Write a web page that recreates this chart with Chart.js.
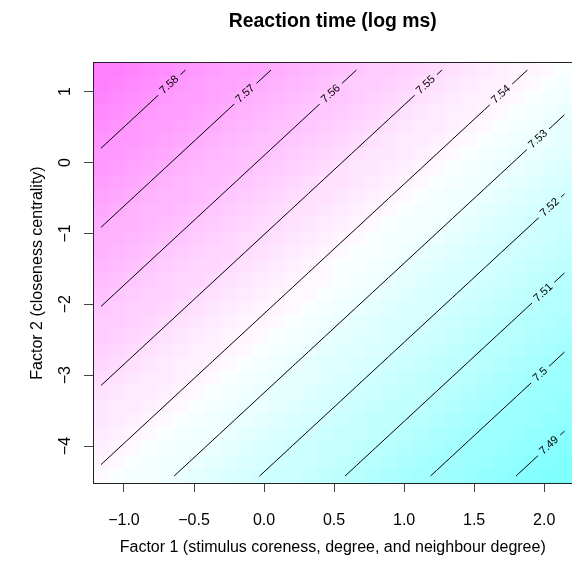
<!DOCTYPE html>
<html>
<head>
<meta charset="utf-8">
<script src="https://cdn.jsdelivr.net/npm/chart.js@4.4.0/dist/chart.umd.min.js"></script>
<style>
  html, body { margin: 0; padding: 0; background: #fff; overflow: hidden; }
  canvas { display: block; }
</style>
</head>
<body>
<canvas id="contour" width="574" height="563"></canvas>
<script>
var FONT = '"Liberation Sans", Arial, Helvetica, sans-serif';

// cell centres of the 30 x 30 prediction grid
var xGrid = [-1.164, -1.0499, -0.9358, -0.8217, -0.7076, -0.5935, -0.4794, -0.3653, -0.2512, -0.1371,
             -0.0230, 0.0911, 0.2052, 0.3193, 0.4334, 0.5475, 0.6616, 0.7757, 0.8898, 1.0039,
             1.1180, 1.2321, 1.3462, 1.4603, 1.5744, 1.6885, 1.8026, 1.9167, 2.0308, 2.1449];
var yGrid = [-4.423, -4.2255, -4.028, -3.8305, -3.633, -3.4355, -3.238, -3.0405, -2.843, -2.6455,
             -2.448, -2.2505, -2.053, -1.8555, -1.658, -1.4605, -1.263, -1.0655, -0.868, -0.6705,
             -0.473, -0.2755, -0.078, 0.1195, 0.317, 0.5145, 0.712, 0.9095, 1.107, 1.3045];

// fitted log RT along the lowest grid row (factor 2 = -4.42)
var zBottomRow = [7.53856, 7.53669, 7.53482, 7.53295, 7.53108, 7.52921, 7.52734, 7.52547, 7.52360, 7.52173,
                  7.51986, 7.51799, 7.51612, 7.51425, 7.51238, 7.51051, 7.50864, 7.50677, 7.50490, 7.50303,
                  7.50116, 7.49929, 7.49742, 7.49555, 7.49368, 7.49181, 7.48994, 7.48807, 7.48620, 7.48433];
// fitted log RT along the leftmost grid column (factor 1 = -1.16)
var zLeftCol = [7.53856, 7.54033, 7.54210, 7.54387, 7.54564, 7.54741, 7.54918, 7.55095, 7.55272, 7.55449,
                7.55626, 7.55803, 7.55980, 7.56157, 7.56334, 7.56511, 7.56688, 7.56865, 7.57042, 7.57219,
                7.57396, 7.57573, 7.57750, 7.57927, 7.58104, 7.58281, 7.58458, 7.58635, 7.58812, 7.58989];

var levels = [7.58, 7.57, 7.56, 7.55, 7.54, 7.53, 7.52, 7.51, 7.50, 7.49];
var levelLabels = ["7.58", "7.57", "7.56", "7.55", "7.54", "7.53", "7.52", "7.51", "7.5", "7.49"];

var xTicks = [-1, -0.5, 0, 0.5, 1, 1.5, 2];
var xTickLabels = ["\u22121.0", "\u22120.5", "0.0", "0.5", "1.0", "1.5", "2.0"];
var yTicks = [-4, -3, -2, -1, 0, 1];
var yTickLabels = ["\u22124", "\u22123", "\u22122", "\u22121", "0", "1"];

// how far back from the upper end each contour label sits (px)
var labelBack = [22, 35, 35, 22, 36, 36, 20, 29, 33, 21];

// additive surface: table built from the two fitted profiles
var zTable = yGrid.map(function (y, j) {
  return xGrid.map(function (x, i) { return zBottomRow[i] + zLeftCol[j] - zLeftCol[0]; });
});

var zMin = Infinity, zMax = -Infinity;
zTable.forEach(function (row) {
  row.forEach(function (z) { zMin = Math.min(zMin, z); zMax = Math.max(zMax, z); });
});

// R's cm.colors(50)
function cmColors(n) {
  var k = n / 2, cols = [];
  for (var a = 0; a < k; a++) {
    var s = 0.5 - a * (0.5 - 0.5 / k) / (k - 1);
    cols.push('rgb(' + Math.round(255 * (1 - s)) + ',255,255)');
  }
  for (var b = 1; b <= k; b++) {
    var s2 = 0.5 * b / k;
    cols.push('rgb(255,' + Math.round(255 * (1 - s2)) + ',255)');
  }
  return cols;
}
var palette = cmColors(50);

function colourFor(z) {
  var idx = Math.floor((z - zMin) / (zMax - zMin) * palette.length);
  return palette[Math.max(0, Math.min(palette.length - 1, idx))];
}

function cellEdges(g, k) {
  var lo = k === 0 ? g[0] - (g[1] - g[0]) / 2 : (g[k - 1] + g[k]) / 2;
  var hi = k === g.length - 1 ? g[k] + (g[k] - g[k - 1]) / 2 : (g[k] + g[k + 1]) / 2;
  return [lo, hi];
}

function contourPoints(level) {
  var pts = [];
  for (var j = 0; j < yGrid.length; j++) {
    for (var i = 0; i < xGrid.length - 1; i++) {
      var z1 = zTable[j][i], z2 = zTable[j][i + 1];
      if (z1 !== z2 && (z1 - level) * (z2 - level) <= 0) {
        var t = (level - z1) / (z2 - z1);
        pts.push({ x: xGrid[i] + t * (xGrid[i + 1] - xGrid[i]), y: yGrid[j] });
      }
    }
  }
  for (var c = 0; c < xGrid.length; c++) {
    for (var r = 0; r < yGrid.length - 1; r++) {
      var w1 = zTable[r][c], w2 = zTable[r + 1][c];
      if (w1 !== w2 && (w1 - level) * (w2 - level) <= 0) {
        var u = (level - w1) / (w2 - w1);
        pts.push({ x: xGrid[c], y: yGrid[r] + u * (yGrid[r + 1] - yGrid[r]) });
      }
    }
  }
  pts.sort(function (p, q) { return p.x - q.x || p.y - q.y; });
  return pts;
}

function paintCells(chart) {
  var ctx = chart.ctx, xs = chart.scales.x, ys = chart.scales.y;
  for (var j = 0; j < yGrid.length; j++) {
    var ey = cellEdges(yGrid, j);
    var t = Math.round(ys.getPixelForValue(ey[1])), b = Math.round(ys.getPixelForValue(ey[0]));
    for (var i = 0; i < xGrid.length; i++) {
      var ex = cellEdges(xGrid, i);
      var l = Math.round(xs.getPixelForValue(ex[0])), r = Math.round(xs.getPixelForValue(ex[1]));
      ctx.fillStyle = colourFor(zTable[j][i]);
      ctx.fillRect(l, t, r - l, b - t);
    }
  }
}

var heatPlugin = {
  id: 'heat',
  beforeDatasetsDraw: function (chart) {
    var ca = chart.chartArea, ctx = chart.ctx;
    ctx.save();
    ctx.beginPath();
    ctx.rect(ca.left, ca.top, ca.right - ca.left, ca.bottom - ca.top);
    ctx.clip();
    paintCells(chart);
    ctx.restore();
  }
};

var labelPlugin = {
  id: 'contourLabels',
  afterDatasetsDraw: function (chart) {
    var ctx = chart.ctx, xs = chart.scales.x, ys = chart.scales.y;
    ctx.save();
    ctx.font = '11px ' + FONT;
    chart.data.datasets.forEach(function (ds, k) {
      var pts = ds.data;
      if (pts.length < 2) return;
      var ax = xs.getPixelForValue(pts[0].x), ay = ys.getPixelForValue(pts[0].y);
      var bx = xs.getPixelForValue(pts[pts.length - 1].x), by = ys.getPixelForValue(pts[pts.length - 1].y);
      var len = Math.hypot(bx - ax, by - ay);
      var ux = (bx - ax) / len, uy = (by - ay) / len;
      var cx = bx - ux * labelBack[k], cy = by - uy * labelBack[k];
      var hw = (ctx.measureText(levelLabels[k]).width + 9) / 2, hh = 4;
      // break the line under the label
      ctx.save();
      ctx.beginPath();
      ctx.moveTo(cx - ux * hw - uy * hh, cy - uy * hw + ux * hh);
      ctx.lineTo(cx + ux * hw - uy * hh, cy + uy * hw + ux * hh);
      ctx.lineTo(cx + ux * hw + uy * hh, cy + uy * hw - ux * hh);
      ctx.lineTo(cx - ux * hw + uy * hh, cy - uy * hw - ux * hh);
      ctx.closePath();
      ctx.clip();
      paintCells(chart);
      ctx.restore();

      ctx.save();
      ctx.translate(cx, cy);
      ctx.rotate(Math.atan2(uy, ux));
      ctx.fillStyle = '#000';
      ctx.textAlign = 'center';
      ctx.textBaseline = 'middle';
      ctx.fillText(levelLabels[k], 0, 0);
      ctx.restore();
    });
    ctx.restore();
  }
};

var framePlugin = {
  id: 'frame',
  afterDraw: function (chart) {
    var ctx = chart.ctx, ca = chart.chartArea, ys = chart.scales.y;
    ctx.save();
    ctx.strokeStyle = '#222';
    ctx.lineWidth = 1;
    ctx.strokeRect(Math.round(ca.left) + 0.5, Math.round(ca.top) - 0.5,
                   ca.right - ca.left, Math.round(ca.bottom) - Math.round(ca.top) + 1);
    // y tick labels, parallel to the axis as in R
    ctx.fillStyle = '#000';
    ctx.font = '16px ' + FONT;
    ctx.textAlign = 'center';
    ctx.textBaseline = 'alphabetic';
    yTicks.forEach(function (v, i) {
      ctx.save();
      ctx.translate(70, ys.getPixelForValue(v));
      ctx.rotate(-Math.PI / 2);
      ctx.fillText(yTickLabels[i], 0, 0);
      ctx.restore();
    });
    ctx.restore();
  }
};

var xMin = cellEdges(xGrid, 0)[0], xMax = cellEdges(xGrid, xGrid.length - 1)[1];
var yMin = cellEdges(yGrid, 0)[0], yMax = cellEdges(yGrid, yGrid.length - 1)[1];

new Chart(document.getElementById('contour'), {
  type: 'scatter',
  data: {
    datasets: levels.map(function (lv, k) {
      return {
        label: levelLabels[k],
        data: contourPoints(lv),
        showLine: true,
        borderColor: '#000',
        borderWidth: 1,
        pointRadius: 0,
        pointHoverRadius: 0,
        tension: 0
      };
    })
  },
  options: {
    responsive: false,
    animation: false,
    devicePixelRatio: 1,
    events: [],
    layout: { padding: { left: 0, right: 1, top: 0, bottom: 0 } },
    plugins: {
      legend: { display: false },
      tooltip: { enabled: false },
      title: {
        display: true,
        text: 'Reaction time (log ms)',
        color: '#000',
        fullSize: false,
        font: { family: FONT, size: 19.4, weight: 'bold', lineHeight: 1.2 },
        padding: { top: 10, bottom: 29.72 }
      }
    },
    scales: {
      x: {
        type: 'linear',
        position: 'bottom',
        min: xMin,
        max: xMax,
        afterBuildTicks: function (s) { s.ticks = xTicks.map(function (v) { return { value: v }; }); },
        afterFit: function (s) { s.height = 80; },
        ticks: {
          autoSkip: false,
          maxRotation: 0,
          color: '#000',
          padding: 18.6,
          font: { family: FONT, size: 16 },
          callback: function (v, i) { return xTickLabels[i]; }
        },
        grid: { drawOnChartArea: false, drawTicks: true, tickLength: 9, color: '#444' },
        border: { display: false },
        title: {
          display: true,
          text: 'Factor 1 (stimulus coreness, degree, and neighbour degree)',
          color: '#000',
          font: { family: FONT, size: 16, lineHeight: 1.2 },
          padding: { top: 0, bottom: 5.9 }
        }
      },
      y: {
        type: 'linear',
        position: 'left',
        min: yMin,
        max: yMax,
        afterBuildTicks: function (s) { s.ticks = yTicks.map(function (v) { return { value: v }; }); },
        afterFit: function (s) { s.width = 93; },
        ticks: { display: false },
        grid: { drawOnChartArea: false, drawTicks: true, tickLength: 9, color: '#444' },
        border: { display: false },
        title: {
          display: true,
          text: 'Factor 2 (closeness centrality)',
          color: '#000',
          font: { family: FONT, size: 16, lineHeight: 1.2 },
          padding: { top: 27.6, bottom: 0 }
        }
      }
    }
  },
  plugins: [heatPlugin, labelPlugin, framePlugin]
});
</script>
</body>
</html>
